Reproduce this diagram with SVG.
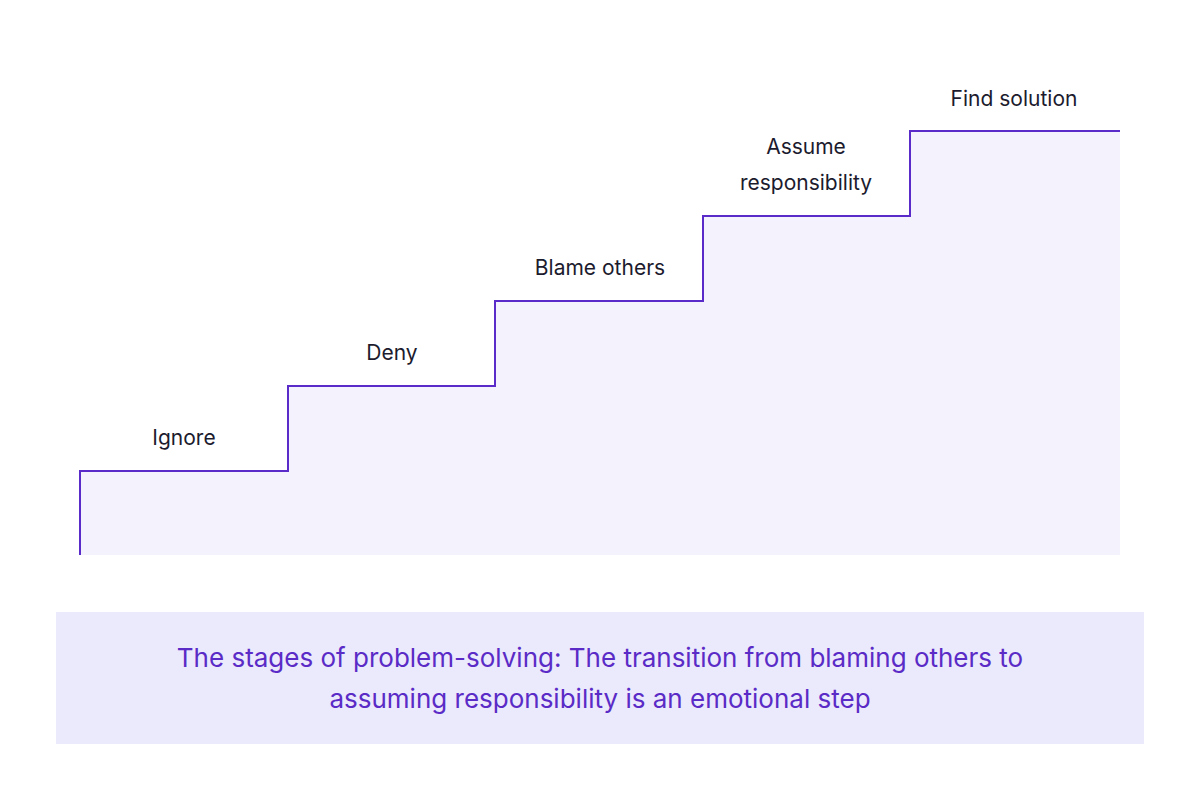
<svg xmlns="http://www.w3.org/2000/svg" width="1200" height="800" viewBox="0 0 1200 800">
<style>
.lbl{font-family:Inter,"Noto Sans",sans-serif;font-size:21px;fill:#1c1b2e;text-anchor:middle}
.cap{font-family:Inter,"Noto Sans",sans-serif;font-size:26px;fill:#5a2bc6;text-anchor:middle}
</style>
<rect width="1200" height="800" fill="#ffffff"/>
<g id="stairs">
<path d="M80,555 V471 H288 V386 H495 V301 H703 V216 H910 V131 H1120 V555 Z" fill="#f4f2fd"/>
<path d="M80,555 V471 H288 V386 H495 V301 H703 V216 H910 V131 H1120" fill="none" stroke="#5b2bc9" stroke-width="2"/>
</g>
<g id="ignore"><text class="lbl" x="184" y="445">Ignore</text></g>
<g id="deny"><text class="lbl" x="392" y="360">Deny</text></g>
<g id="blame"><text class="lbl" x="600" y="275">Blame others</text></g>
<g id="assume"><text class="lbl" x="806" y="154">Assume</text><text class="lbl" x="806" y="190">responsibility</text></g>
<g id="find"><text class="lbl" x="1014" y="106">Find solution</text></g>
<g id="caption">
<rect x="56" y="612" width="1088" height="132" fill="#ebe9fc"/>
<text class="cap" x="600" y="667">The stages of problem-solving: The transition from blaming others to</text>
<text class="cap" x="600" y="708">assuming responsibility is an emotional step</text>
</g>
</svg>
